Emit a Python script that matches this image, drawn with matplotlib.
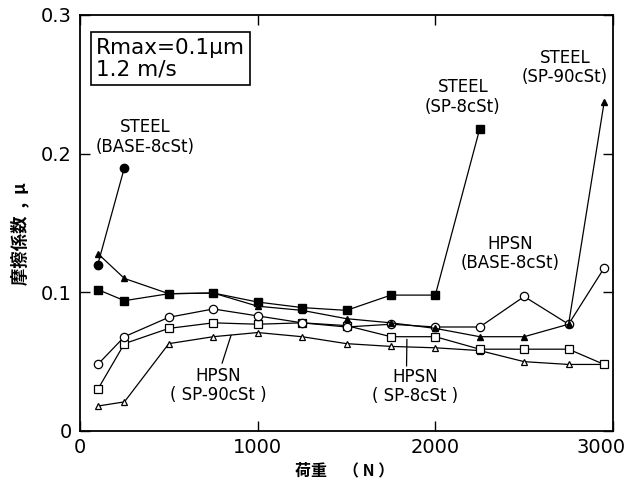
import numpy as np
import matplotlib
matplotlib.use("Agg")
import matplotlib.pyplot as plt
from matplotlib.transforms import ScaledTranslation

# load (N) and friction coefficient
load = [100, 250, 500, 750, 1000, 1250, 1500, 1750, 2000, 2250, 2500, 2750, 2950]

steel_base_x = [100, 250]
steel_base_y = [0.120, 0.190]

steel_sp8_x = [100, 250, 500, 750, 1000, 1250, 1500, 1750, 2000, 2250]
steel_sp8_y = [0.102, 0.094, 0.099, 0.0995, 0.093, 0.089, 0.087, 0.098, 0.098, 0.218]

steel_sp90_y = [0.128, 0.110, 0.099, 0.0995, 0.090, 0.087, 0.081, 0.078, 0.074, 0.068, 0.068, 0.077, 0.237]
hpsn_base_y = [0.048, 0.068, 0.082, 0.088, 0.083, 0.078, 0.075, 0.077, 0.075, 0.075, 0.097, 0.077, 0.1175]
hpsn_sp8_y = [0.030, 0.063, 0.074, 0.078, 0.077, 0.078, 0.076, 0.068, 0.068, 0.059, 0.059, 0.059, 0.048]
hpsn_sp90_y = [0.018, 0.021, 0.063, 0.068, 0.071, 0.068, 0.063, 0.061, 0.060, 0.058, 0.050, 0.048, 0.048]

x_ticks = [0, 1000, 2000, 3000]
y_ticks = [0, 0.1, 0.2, 0.3]
y_tick_labels = ["0", "0.1", "0.2", "0.3"]

# curve labels: text, x, y
labels = [
    ("STEEL\n(BASE-8cSt)", 366, 0.212),
    ("STEEL\n(SP-8cSt)", 2155, 0.241),
    ("STEEL\n(SP-90cSt)", 2729, 0.262),
    ("HPSN\n(BASE-8cSt)", 2420, 0.128),
    ("HPSN\n( SP-90cSt )", 777, 0.033),
    ("HPSN\n( SP-8cSt )", 1885, 0.032),
]
# leader lines from label to curve
leaders = [
    ([850, 800], [0.069, 0.049]),
    ([1840, 1838], [0.066, 0.047]),
]

cjk = ["Noto Sans CJK JP", "DejaVu Sans"]

fig = plt.figure(figsize=(6.34, 4.95), dpi=100)
ax = fig.add_axes([80/634, 64/495, 533/634, 416/495])

lw = 0.9
ax.plot(load, hpsn_sp90_y, '-^', color='k', lw=lw, ms=5, mfc='white', mec='k', mew=0.9)
ax.plot(load, hpsn_sp8_y, '-s', color='k', lw=lw, ms=5.5, mfc='white', mec='k', mew=0.9)
ax.plot(load, hpsn_base_y, '-o', color='k', lw=lw, ms=6, mfc='white', mec='k', mew=0.9)
ax.plot(load, steel_sp90_y, '-^', color='k', lw=lw, ms=5, mfc='k', mec='k')
ax.plot(steel_sp8_x, steel_sp8_y, '-s', color='k', lw=lw, ms=5.5, mfc='k', mec='k')
ax.plot(steel_base_x, steel_base_y, '-o', color='k', lw=lw, ms=6, mfc='k', mec='k')

for lx, ly in leaders:
    ax.plot(lx, ly, color='k', lw=0.9)

for txt, tx, ty in labels:
    ax.text(tx, ty, txt, ha='center', va='center', fontsize=12,
            linespacing=1.1, multialignment='center')

ax.text(0.03, 0.945, "Rmax=0.1\u03bcm\n1.2 m/s", transform=ax.transAxes,
        ha='left', va='top', fontsize=15.5, linespacing=1.1,
        bbox=dict(boxstyle='square,pad=0.25', fc='white', ec='k', lw=1.2))

ax.set_xlim(0, 3000)
ax.set_ylim(0, 0.3)
ax.set_xticks(x_ticks)
ax.set_yticks(y_ticks)
ax.set_yticklabels(y_tick_labels)
ax.tick_params(direction='in', length=7, width=1, top=True, right=True,
               labelsize=14)
ax.tick_params(axis='y', pad=6)
ax.tick_params(axis='x', pad=5)
for s in ax.spines.values():
    s.set_linewidth(1.3)

# the last x label sits a little left of the frame edge
last = ax.get_xticklabels()[-1]
last.set_transform(last.get_transform() + ScaledTranslation(-12/100, 0, fig.dpi_scale_trans))

fig.text(345/634, 1 - 470/495, "荷重　（ N ）", ha='center', va='center',
         fontsize=11.5, fontweight='bold', family=cjk)
fig.text(20/634, 1 - 234/495, "摩擦係数  ,  μ", ha='center', va='center',
         rotation=90, fontsize=12.5, fontweight='bold', family=cjk)

fig.savefig("out.png", dpi=100)
